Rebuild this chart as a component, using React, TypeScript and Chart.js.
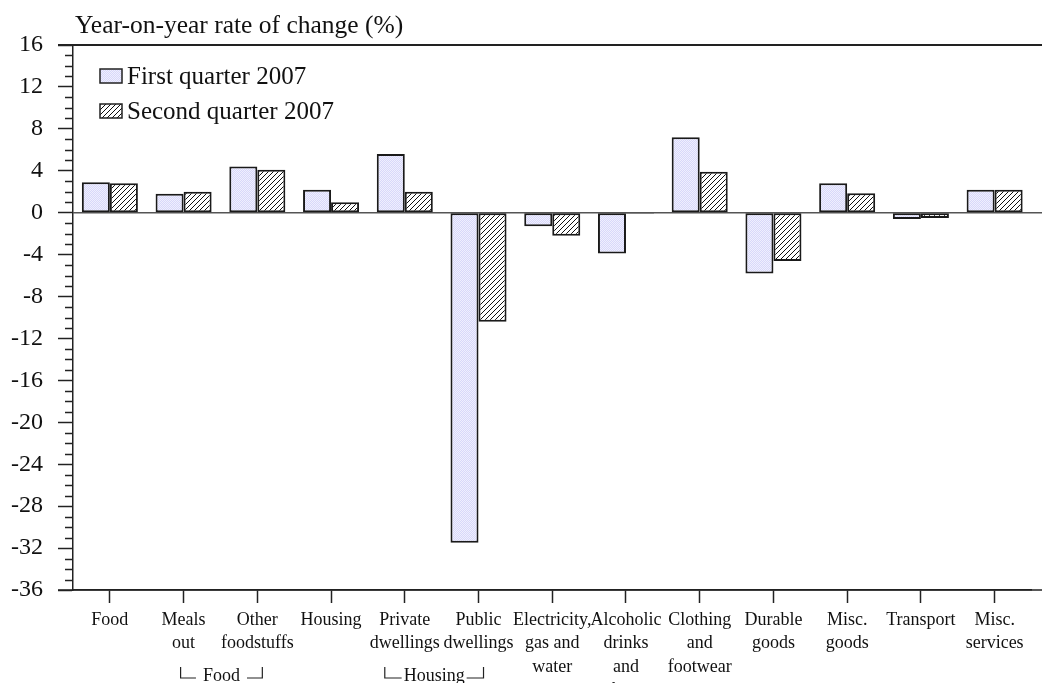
import React, { useEffect, useRef } from 'react';
import { Chart, registerables } from 'chart.js';

Chart.register(...registerables);

const categories: string[][] = [
  ['Food'],
  ['Meals', 'out'],
  ['Other', 'foodstuffs'],
  ['Housing'],
  ['Private', 'dwellings'],
  ['Public', 'dwellings'],
  ['Electricity,', 'gas and', 'water'],
  ['Alcoholic', 'drinks', 'and', 'tobacco'],
  ['Clothing', 'and', 'footwear'],
  ['Durable', 'goods'],
  ['Misc.', 'goods'],
  ['Transport'],
  ['Misc.', 'services'],
];
const q1Values = [2.9, 1.8, 4.4, 2.2, 5.6, -31.5, -1.3, -3.9, 7.2, -5.8, 2.8, -0.6, 2.2];
const q2Values = [2.8, 2.0, 4.1, 1.0, 2.0, -10.4, -2.2, -0.1, 3.9, -4.6, 1.85, -0.5, 2.2];
const seriesNames = ['First quarter 2007', 'Second quarter 2007'];
const yMin = -36;
const yMax = 16;
const yStep = 4;
const axisTitle = 'Year-on-year rate of change (%)';
const groupBrackets = [
  { label: 'Food', from: 1, to: 2, dl: -3, dr: 5, gap: 7 },
  { label: 'Housing', from: 4, to: 5, dl: -20, dr: 5, gap: 2 },
];

const W = 1042;
const H = 712;
const VISIBLE_H = 683;
const FONT = "'Liberation Serif', 'Times New Roman', serif";

function makeDotPattern(): CanvasPattern | string {
  const c = document.createElement('canvas');
  c.width = 2;
  c.height = 2;
  const g = c.getContext('2d');
  if (!g) return '#e6e6fa';
  g.fillStyle = '#efeffe';
  g.fillRect(0, 0, 2, 2);
  g.fillStyle = '#d8d8fa';
  g.fillRect(1, 0, 1, 1);
  g.fillRect(0, 1, 1, 1);
  return g.createPattern(c, 'repeat') || '#e6e6fa';
}

function makeHatchPattern(): CanvasPattern | string {
  const s = 5;
  const c = document.createElement('canvas');
  c.width = s;
  c.height = s;
  const g = c.getContext('2d');
  if (!g) return '#bbb';
  g.fillStyle = '#ffffff';
  g.fillRect(0, 0, s, s);
  g.strokeStyle = '#111';
  g.lineWidth = 1;
  g.beginPath();
  g.moveTo(0, s);
  g.lineTo(s, 0);
  g.moveTo(-1, 1);
  g.lineTo(1, -1);
  g.moveTo(s - 1, s + 1);
  g.lineTo(s + 1, s - 1);
  g.stroke();
  return g.createPattern(c, 'repeat') || '#bbb';
}

export default function App() {
  const ref = useRef<HTMLCanvasElement | null>(null);

  useEffect(() => {
    document.body.style.margin = '0';
    const canvas = ref.current;
    if (!canvas) return;
    const dots = makeDotPattern();
    const hatch = makeHatchPattern();
    const fills = [dots, hatch];

    const decor = {
      id: 'decor',
      beforeDatasetsDraw(chart: any) {
        const ctx = chart.ctx;
        const y = chart.scales.y;
        const ca = chart.chartArea;
        const zy = y.getPixelForValue(0);
        ctx.save();
        ctx.strokeStyle = '#555';
        ctx.lineWidth = 1.5;
        ctx.beginPath();
        ctx.moveTo(ca.left, zy);
        ctx.lineTo(W, zy);
        ctx.stroke();
        ctx.restore();
      },
      afterDraw(chart: any) {
        const ctx = chart.ctx;
        const y = chart.scales.y;
        const x = chart.scales.x;
        const ca = chart.chartArea;
        ctx.save();
        // top border
        ctx.strokeStyle = '#222';
        ctx.lineWidth = 2;
        ctx.beginPath();
        ctx.moveTo(ca.left - 15, ca.top);
        ctx.lineTo(W, ca.top);
        ctx.stroke();
        // extend x-axis line
        ctx.lineWidth = 1.5;
        ctx.beginPath();
        ctx.moveTo(ca.left - 15, ca.bottom);
        ctx.lineTo(W, ca.bottom);
        ctx.stroke();
        // minor ticks
        ctx.lineWidth = 1.5;
        ctx.beginPath();
        for (let v = yMin; v <= yMax; v++) {
          if (v % yStep === 0) continue;
          const py = Math.round(y.getPixelForValue(v)) + 0.5;
          ctx.moveTo(ca.left - 8, py);
          ctx.lineTo(ca.left, py);
        }
        ctx.stroke();
        // title
        ctx.fillStyle = '#111';
        ctx.font = `25.5px ${FONT}`;
        ctx.textAlign = 'left';
        ctx.textBaseline = 'alphabetic';
        ctx.fillText(axisTitle, 75, 33);
        // legend
        chart.data.datasets.forEach((ds: any, i: number) => {
          const bx = 100;
          const by = 69 + i * 35;
          ctx.fillStyle = fills[i];
          ctx.fillRect(bx, by, 22, 14);
          ctx.strokeStyle = '#222';
          ctx.lineWidth = 1.5;
          ctx.strokeRect(bx, by, 22, 14);
          ctx.fillStyle = '#111';
          ctx.font = `25px ${FONT}`;
          ctx.fillText(ds.label, 127, 84 + i * 35);
        });
        // group brackets
        ctx.font = `18px ${FONT}`;
        ctx.strokeStyle = '#222';
        ctx.lineWidth = 1.2;
        groupBrackets.forEach((g) => {
          const l = x.getPixelForValue(g.from) + g.dl;
          const r = x.getPixelForValue(g.to) + g.dr;
          const cx = (l + r) / 2;
          const tw = ctx.measureText(g.label).width;
          const top = 667;
          const bot = 678;
          ctx.beginPath();
          ctx.moveTo(l, top);
          ctx.lineTo(l, bot);
          ctx.lineTo(cx - tw / 2 - g.gap, bot);
          ctx.moveTo(cx + tw / 2 + g.gap, bot);
          ctx.lineTo(r, bot);
          ctx.lineTo(r, top);
          ctx.stroke();
          ctx.fillStyle = '#111';
          ctx.textAlign = 'center';
          ctx.fillText(g.label, cx, 681);
        });
        ctx.restore();
      },
    };

    const chart = new Chart(canvas, {
      type: 'bar',
      data: {
        labels: categories,
        datasets: [
          {
            label: seriesNames[0],
            data: q1Values,
            backgroundColor: dots as any,
            borderColor: '#1a1a1a',
            borderWidth: 2,
            borderSkipped: false,
          },
          {
            label: seriesNames[1],
            data: q2Values,
            backgroundColor: hatch as any,
            borderColor: '#1a1a1a',
            borderWidth: 2,
            borderSkipped: false,
          },
        ],
      },
      options: {
        responsive: false,
        animation: false,
        devicePixelRatio: 1,
        layout: { padding: { top: 45, right: 10.5, left: 0, bottom: 0 } },
        datasets: { bar: { categoryPercentage: 0.76, barPercentage: 1 } },
        plugins: {
          legend: { display: false },
          tooltip: { enabled: false },
          title: { display: false },
        },
        scales: {
          x: {
            offset: true,
            grid: {
              offset: false,
              drawOnChartArea: false,
              drawTicks: true,
              tickLength: 13,
              tickColor: '#222',
              tickWidth: 1.5,
            },
            border: { display: true, color: '#222', width: 1.5 },
            ticks: {
              autoSkip: false,
              maxRotation: 0,
              minRotation: 0,
              padding: 5.5,
              color: '#111',
              font: { family: FONT, size: 18, lineHeight: 1.3 },
            },
            afterFit: (s: any) => {
              s.height = H - 590;
            },
          },
          y: {
            min: yMin,
            max: yMax,
            grid: {
              drawOnChartArea: false,
              drawTicks: true,
              tickLength: 15,
              tickColor: '#222',
              tickWidth: 1.5,
            },
            border: { display: true, color: '#222', width: 1.5 },
            ticks: {
              stepSize: yStep,
              padding: 15,
              color: '#111',
              font: { family: FONT, size: 24 },
              callback: (v: any) => String(v),
            },
            afterFit: (s: any) => {
              s.width = 73;
            },
          },
        },
      },
      plugins: [decor],
    });
    return () => chart.destroy();
  }, []);

  return (
    <div style={{ width: W, height: VISIBLE_H, overflow: 'hidden', background: '#fff' }}>
      <canvas ref={ref} width={W} height={H} style={{ display: 'block', width: W, height: H }} />
    </div>
  );
}
